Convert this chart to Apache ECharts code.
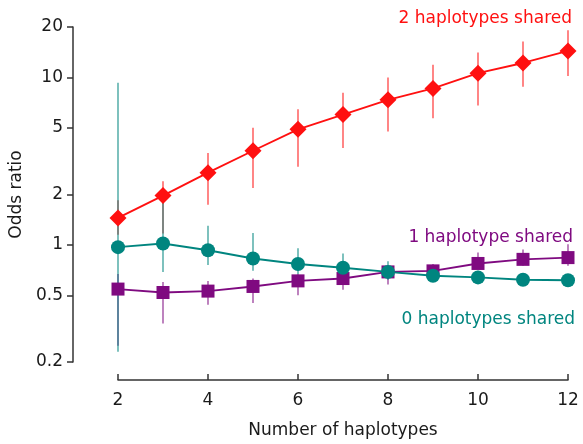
<!DOCTYPE html>
<html>
<head>
<meta charset="utf-8">
<script src="https://cdn.jsdelivr.net/npm/echarts@6/dist/echarts.min.js"></script>
<style>
  html, body { margin: 0; padding: 0; background: #fff; }
  #chart { width: 583px; height: 444px; }
</style>
</head>
<body>
<div id="chart"></div>
<script>
// number of haplotypes
var haplotypes = [2, 3, 4, 5, 6, 7, 8, 9, 10, 11, 12];

// 2 haplotypes shared
var or2 = [1.45, 1.97, 2.7, 3.65, 4.9, 6.0, 7.35, 8.6, 10.6, 12.2, 14.4];
var lo2 = [1.15, 1.17, 1.74, 2.19, 2.93, 3.79, 4.75, 5.7, 6.8, 8.8, 10.2];
var hi2 = [1.85, 2.4, 3.54, 5.0, 6.46, 8.1, 10.0, 11.9, 14.1, 16.4, 19.1];

// 1 haplotype shared
var or1 = [0.545, 0.52, 0.53, 0.565, 0.61, 0.63, 0.69, 0.70, 0.775, 0.82, 0.84];
var lo1 = [0.25, 0.34, 0.44, 0.45, 0.50, 0.54, 0.58, 0.60, 0.72, 0.75, 0.75];
var hi1 = [0.67, 0.60, 0.61, 0.63, 0.67, 0.69, 0.75, 0.77, 0.90, 0.94, 1.01];

// 0 haplotypes shared
var or0 = [0.97, 1.02, 0.93, 0.83, 0.77, 0.73, 0.69, 0.655, 0.64, 0.62, 0.615];
var lo0 = [0.23, 0.69, 0.76, 0.70, 0.67, 0.66, 0.62, 0.61, 0.59, 0.57, 0.57];
var hi0 = [9.3, 1.9, 1.30, 1.18, 0.955, 0.89, 0.80, 0.70, 0.70, 0.68, 0.66];

var yTicks = [0.2, 0.5, 1, 2, 5, 10, 20];

var font = 'DejaVu Sans';
var red = '#ff1010';
var purple = '#7f0a80';
var teal = '#00857f';

function pairs(ys) {
    var out = [];
    for (var i = 0; i < haplotypes.length; i++) {
        out.push([haplotypes[i], ys[i]]);
    }
    return out;
}

function bars(lo, hi) {
    var out = [];
    for (var i = 0; i < haplotypes.length; i++) {
        out.push([haplotypes[i], lo[i], hi[i]]);
    }
    return out;
}

function errorSeries(lo, hi, color) {
    return {
        type: 'custom',
        data: bars(lo, hi),
        encode: { x: 0, y: [1, 2] },
        z: 1,
        silent: true,
        renderItem: function (params, api) {
            var a = api.coord([api.value(0), api.value(1)]);
            var b = api.coord([api.value(0), api.value(2)]);
            return {
                type: 'line',
                shape: { x1: a[0], y1: a[1], x2: b[0], y2: b[1] },
                style: { stroke: color, lineWidth: 1.7, opacity: 0.6 }
            };
        }
    };
}

function lineSeries(name, ys, color, symbol, size) {
    return {
        name: name,
        type: 'line',
        data: pairs(ys),
        symbol: symbol,
        symbolSize: size,
        showAllSymbol: true,
        clip: false,
        z: 3,
        itemStyle: { color: color },
        lineStyle: { color: color, width: 1.9 }
    };
}

var chart = echarts.init(document.getElementById('chart'));

var option = {
    animation: false,
    backgroundColor: '#fff',
    grid: { left: 118, right: 15, top: 27, bottom: 76 },
    xAxis: {
        type: 'value',
        min: 2,
        max: 12,
        interval: 2,
        offset: 18,
        name: 'Number of haplotypes',
        nameLocation: 'middle',
        nameGap: 42,
        nameTextStyle: { fontFamily: font, fontSize: 17, color: '#1a1a1a' },
        axisLine: { show: true, lineStyle: { color: '#333', width: 1.5 } },
        axisTick: { show: true, inside: true, length: 6, lineStyle: { color: '#333', width: 1.5 } },
        axisLabel: { fontFamily: font, fontSize: 17, color: '#1a1a1a', margin: 12 },
        splitLine: { show: false }
    },
    yAxis: {
        type: 'log',
        logBase: 10,
        min: 0.2,
        max: 20,
        offset: 45,
        name: 'Odds ratio',
        nameLocation: 'middle',
        nameGap: 48,
        nameRotate: 90,
        nameTextStyle: { fontFamily: font, fontSize: 17, color: '#1a1a1a' },
        axisLine: { show: true, lineStyle: { color: '#333', width: 1.5 } },
        axisTick: { show: true, length: 6, customValues: yTicks, lineStyle: { color: '#333', width: 1.5 } },
        axisLabel: {
            fontFamily: font, fontSize: 17, color: '#1a1a1a', margin: 10,
            customValues: yTicks,
            formatter: function (v) { return String(v); }
        },
        splitLine: { show: false }
    },
    graphic: [
        {
            type: 'text', right: 11, top: 10,
            style: { text: '2 haplotypes shared', fill: red, font: '17px "DejaVu Sans"' }
        },
        {
            type: 'text', right: 10, top: 229,
            style: { text: '1 haplotype shared', fill: purple, font: '17px "DejaVu Sans"' }
        },
        {
            type: 'text', right: 8, top: 311,
            style: { text: '0 haplotypes shared', fill: teal, font: '17px "DejaVu Sans"' }
        }
    ],
    series: [
        errorSeries(lo2, hi2, red),
        errorSeries(lo1, hi1, purple),
        errorSeries(lo0, hi0, teal),
        lineSeries('2 haplotypes shared', or2, red, 'diamond', 17),
        lineSeries('1 haplotype shared', or1, purple, 'rect', 13),
        lineSeries('0 haplotypes shared', or0, teal, 'circle', 14)
    ]
};

chart.setOption(option);

window.onresize = function () {
    chart.resize();
};
</script>
</body>
</html>
